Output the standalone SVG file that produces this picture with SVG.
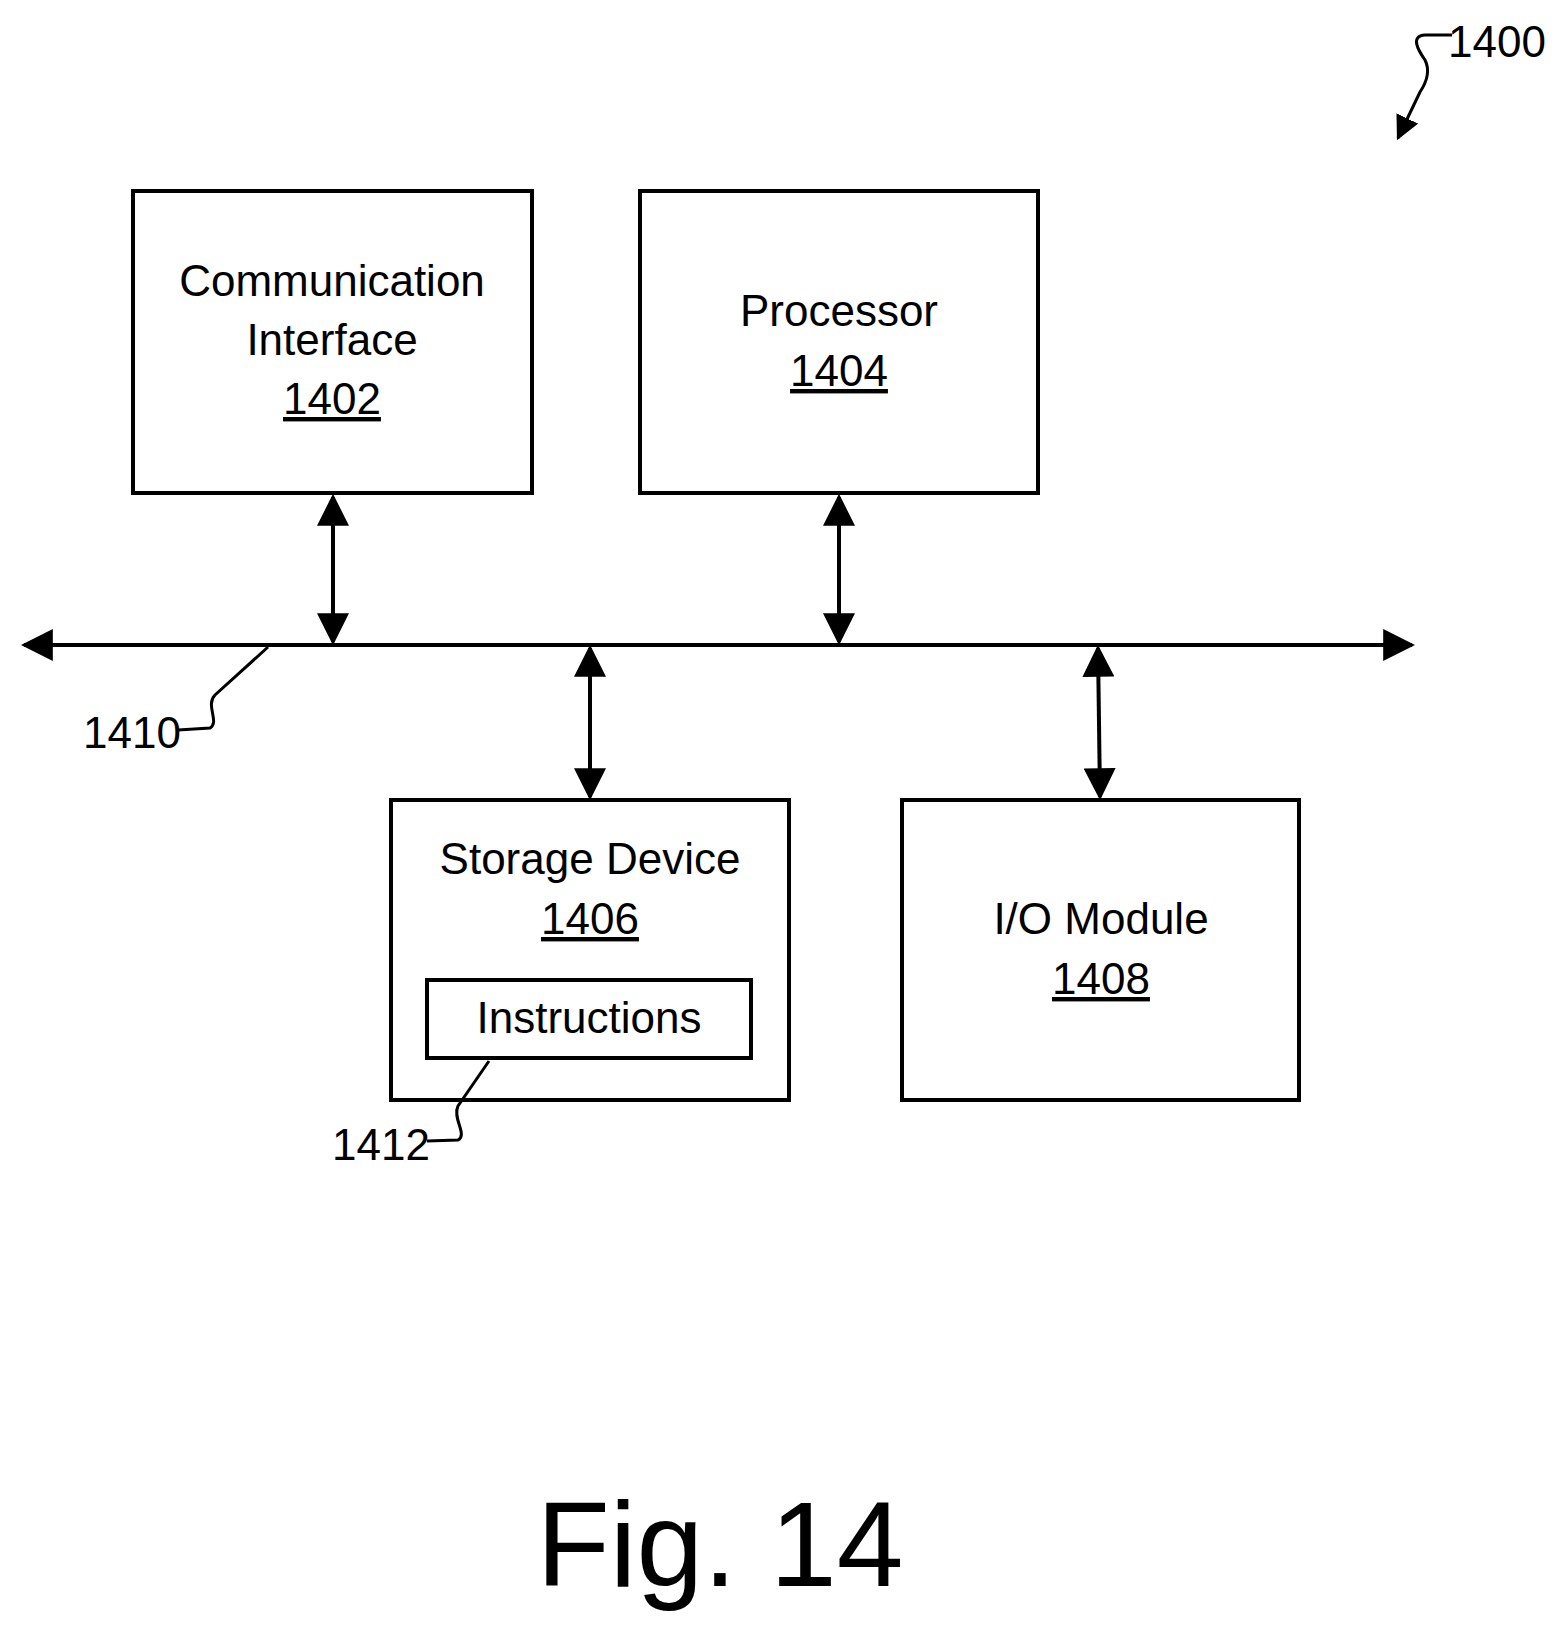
<svg xmlns="http://www.w3.org/2000/svg" width="1559" height="1626" viewBox="0 0 1559 1626">
<style>
.b{fill:none;stroke:#000;stroke-width:4}
.t{font-family:"Liberation Sans",Arial,sans-serif;font-size:44px;fill:#000;text-anchor:middle}
.l{fill:none;stroke:#000;stroke-width:3}
</style>
<defs>
<marker id="a" viewBox="0 0 10 10" refX="9" refY="5" markerWidth="8" markerHeight="8" markerUnits="userSpaceOnUse" orient="auto-start-reverse"><path d="M0,0 L10,5 L0,10 z"/></marker>
<marker id="h" viewBox="0 0 10 10" refX="9" refY="5" markerWidth="8" markerHeight="8" orient="auto-start-reverse"><path d="M0,0 L10,5 L0,10 z"/></marker>
</defs>
<rect width="1559" height="1626" fill="#fff"/>
<g id="connectors">
<line x1="24" y1="645" x2="1412" y2="645" stroke="#000" stroke-width="4" marker-start="url(#h)" marker-end="url(#h)"/>
<line x1="333" y1="497" x2="333" y2="642" stroke="#000" stroke-width="4" marker-start="url(#h)" marker-end="url(#h)"/>
<line x1="839" y1="497" x2="839" y2="642" stroke="#000" stroke-width="4" marker-start="url(#h)" marker-end="url(#h)"/>
<line x1="590" y1="648" x2="590" y2="797" stroke="#000" stroke-width="4" marker-start="url(#h)" marker-end="url(#h)"/>
<line x1="1098" y1="648" x2="1100" y2="797" stroke="#000" stroke-width="4" marker-start="url(#h)" marker-end="url(#h)"/>
<path class="l" d="M268,647 L215,695 C205,705 220,722 210,728 L178,730"/>
<path class="l" d="M489,1061 L458,1106 C452,1118 468,1135 458,1140 L427,1141"/>
<path class="l" d="M1452,35 L1425,35 C1410,36 1418,50 1425,60 C1430,70 1428,80 1420,92 L1398,138" marker-end="url(#h)"/>
</g>
<g id="n1402"><rect class="b" x="133" y="191" width="399" height="302"/>
<text class="t" x="332" y="296">Communication</text><text class="t" x="332" y="355">Interface</text><text class="t" x="332" y="414" text-decoration="underline">1402</text></g>
<g id="n1404"><rect class="b" x="640" y="191" width="398" height="302"/>
<text class="t" x="839" y="326">Processor</text><text class="t" x="839" y="386" text-decoration="underline">1404</text></g>
<g id="n1406"><rect class="b" x="391" y="800" width="398" height="300"/>
<text class="t" x="590" y="874">Storage Device</text><text class="t" x="590" y="934" text-decoration="underline">1406</text></g>
<g id="n1412"><rect class="b" x="427" y="980" width="324" height="78"/>
<text class="t" x="589" y="1033">Instructions</text></g>
<g id="n1408"><rect class="b" x="902" y="800" width="397" height="300"/>
<text class="t" x="1101" y="934">I/O Module</text><text class="t" x="1101" y="994" text-decoration="underline">1408</text></g>
<g id="labels">
<text class="t" x="132" y="748">1410</text>
<text class="t" x="381" y="1160">1412</text>
<text class="t" x="1497" y="57">1400</text>
<text class="t" x="720" y="1586" style="font-size:120px">Fig. 14</text>
</g>
</svg>
